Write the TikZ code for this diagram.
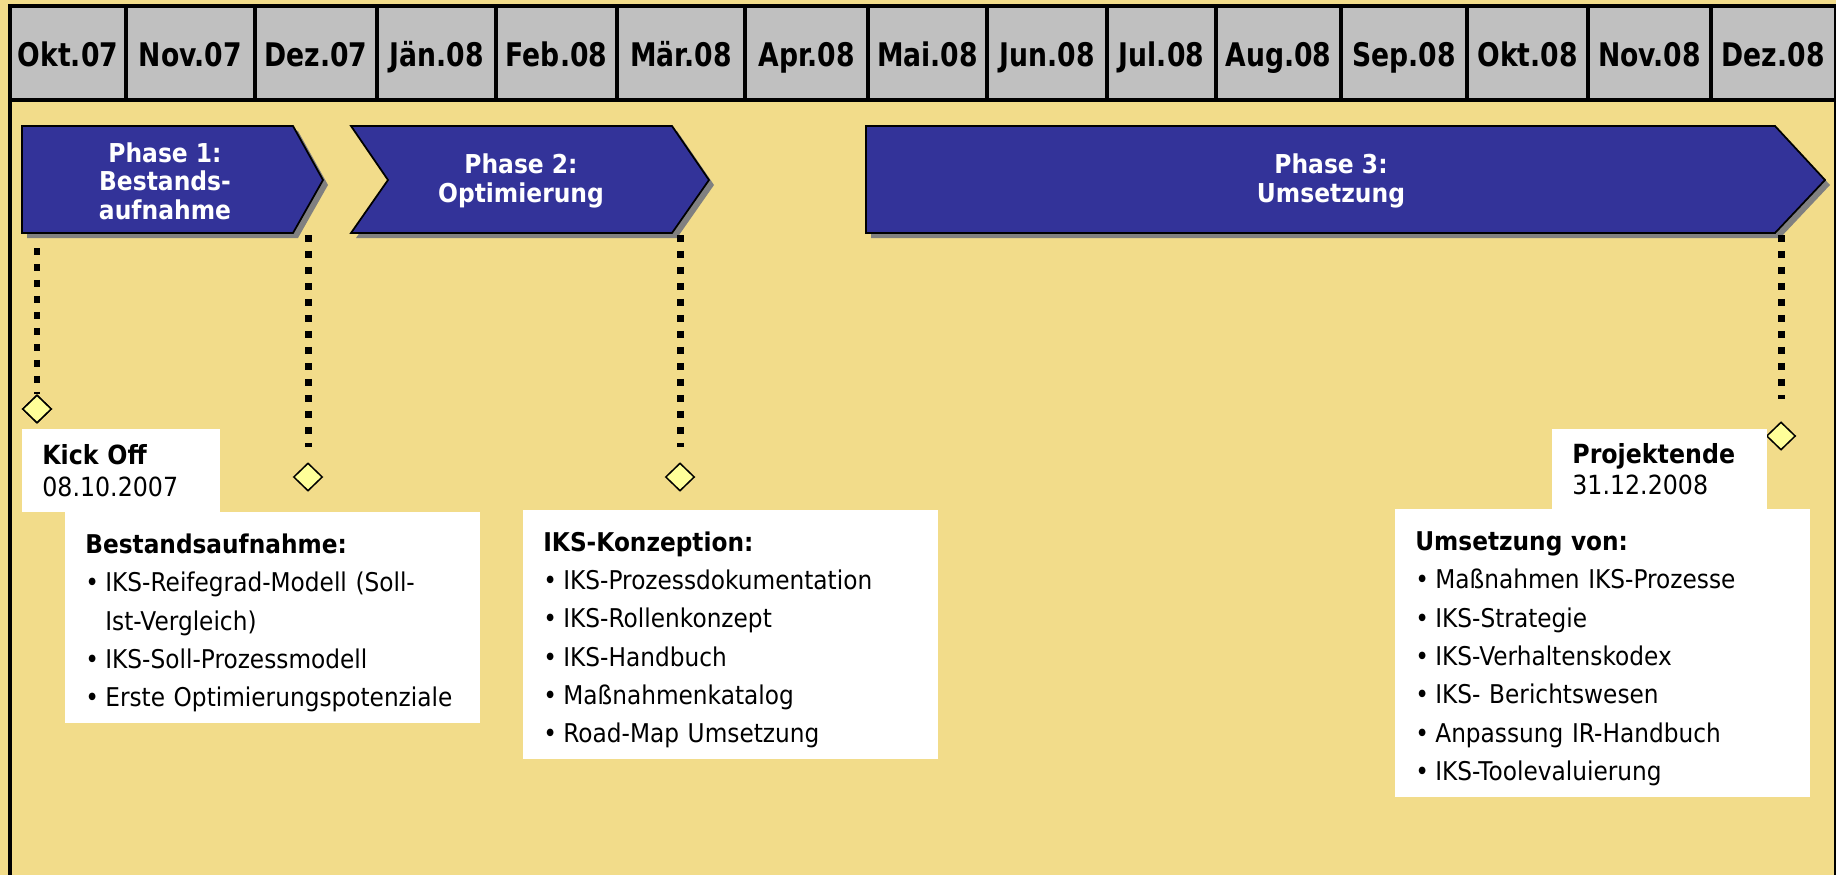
\documentclass[tikz,border=0pt]{standalone}
\usepackage{fontspec}
\setmainfont{DejaVu Sans}[FakeStretch=0.9]
\newfontfamily\monthfont{DejaVu Sans}[FakeStretch=0.82]
\usetikzlibrary{shapes.geometric}

\definecolor{sandbg}{RGB}{242,220,138}
\definecolor{cellgray}{RGB}{192,192,192}
\definecolor{phaseblue}{RGB}{51,51,153}
\definecolor{shadegray}{RGB}{128,128,128}
\definecolor{msyellow}{RGB}{255,255,153}

\tikzset{
  monthcell/.style={draw=black, fill=cellgray, line width=0.07cm},
  monthtext/.style={anchor=base, font=\monthfont\fontsize{18.5}{20}\selectfont\bfseries},
  phasearrow/.style={fill=phaseblue, draw=black, line width=0.035cm,
    preaction={fill=shadegray, draw=none, transform canvas={shift={(5,5)}}}},
  phasetext/.style={text=white, align=center, font=\fontsize{14.8}{16.3}\selectfont\bfseries},
  milestone/.style={diamond, draw=black, fill=msyellow, line width=0.03cm,
    minimum width=0.58cm, minimum height=0.56cm, inner sep=0pt},
  dotline/.style={line width=0.14cm, dash pattern=on 0.14cm off 0.18cm},
  infobox/.style={fill=white, anchor=north west, align=left, inner xsep=0.4cm,
    inner ysep=0pt, font=\fontsize{14.7}{21.8}\selectfont},
  datebox/.style={infobox, font=\fontsize{15}{18}\selectfont}
}
\newcommand{\itm}{\makebox[0.4cm][l]{\textbullet}}
\newcommand{\boxhead}[1]{\rule{0pt}{17pt}\textbf{#1}}

\begin{document}
\begin{tikzpicture}[x=0.02cm, y=-0.02cm]
  \fill[sandbg] (0,0) rectangle (1836,875);
  \useasboundingbox (0,0) rectangle (1836,875);

  % frame and month row
  \draw[line width=0.08cm] (10,6) -- (10,875);
  \draw[line width=0.08cm] (1835.5,6) -- (1835.5,875);
  \foreach \xa/\xb/\mon [count=\i] in {10/126/Okt.07, 126/255/Nov.07, 255/377/Dez.07,
      377/496/Jän.08, 496/617/Feb.08, 617/745/Mär.08, 745/868/Apr.08, 868/987/Mai.08,
      987/1107/Jun.08, 1107/1216/Jul.08, 1216/1341/Aug.08, 1341/1467/Sep.08,
      1467/1588/Okt.08, 1588/1711/Nov.08, 1711/1835.5/Dez.08}{
    \draw[monthcell] (\xa,6) rectangle (\xb,100);
    \node[monthtext] (mon\i) at ({(\xa+\xb)/2},67) {\mon};
  }

  % phases
  \draw[phasearrow] (22,126) -- (293,126) -- (323,180) -- (293,233) -- (22,233) -- cycle;
  \draw[phasearrow] (351,126) -- (672,126) -- (709,180) -- (672,233) -- (351,233) -- (388,180) -- cycle;
  \draw[phasearrow] (866,126) -- (1775,126) -- (1825,180) -- (1775,233) -- (866,233) -- cycle;
  \node[phasetext] (phase1) at (165,181) {Phase 1:\\Bestands-\\aufnahme};
  \node[phasetext] (phase2) at (521,181) {Phase 2:\\Optimierung};
  \node[phasetext] (phase3) at (1331,181) {Phase 3:\\Umsetzung};

  % milestones
  \coordinate (start1) at (37,248);
  \coordinate (end1) at (308,235);
  \coordinate (end2) at (680,235);
  \coordinate (end3) at (1781,235);
  \node[milestone] (kickoff) at (37,409) {};
  \node[milestone] (ms1) at (308,477) {};
  \node[milestone] (ms2) at (680,477) {};
  \node[milestone] (projend) at (1781,436) {};
  \draw[dotline] (start1) -- (kickoff.north);
  \draw[dotline, shorten >=0.3cm] (end1) -- (ms1.north);
  \draw[dotline, shorten >=0.3cm] (end2) -- (ms2.north);
  \draw[dotline, shorten >=0.44cm] (end3) -- (projend.north);
  \node[milestone] at (kickoff) {};

  % boxes
  \node[datebox, text width=3.16cm, minimum height=1.66cm] (kickbox) at (22,429)
    {\textbf{Kick Off}\\08.10.2007};
  \node[datebox, text width=3.5cm, minimum height=1.6cm] (endbox) at (1552,429)
    {\textbf{Projektende}\\31.12.2008};
  \node[infobox, text width=7.5cm, minimum height=4.22cm] (bestand) at (65,512)
    {\boxhead{Bestandsaufnahme:}\\
     \itm IKS-Reifegrad-Modell (Soll-\\
     \hspace*{0.4cm}Ist-Vergleich)\\
     \itm IKS-Soll-Prozessmodell\\
     \itm Erste Optimierungspotenziale};
  \node[infobox, text width=7.5cm, minimum height=4.98cm] (konzept) at (523,510)
    {\boxhead{IKS-Konzeption:}\\
     \itm IKS-Prozessdokumentation\\
     \itm IKS-Rollenkonzept\\
     \itm IKS-Handbuch\\
     \itm Maßnahmenkatalog\\
     \itm Road-Map Umsetzung};
  \node[infobox, text width=7.5cm, minimum height=5.76cm] (umsetz) at (1395,509)
    {\boxhead{Umsetzung von:}\\
     \itm Maßnahmen IKS-Prozesse\\
     \itm IKS-Strategie\\
     \itm IKS-Verhaltenskodex\\
     \itm IKS- Berichtswesen\\
     \itm Anpassung IR-Handbuch\\
     \itm IKS-Toolevaluierung};
\end{tikzpicture}
\end{document}
